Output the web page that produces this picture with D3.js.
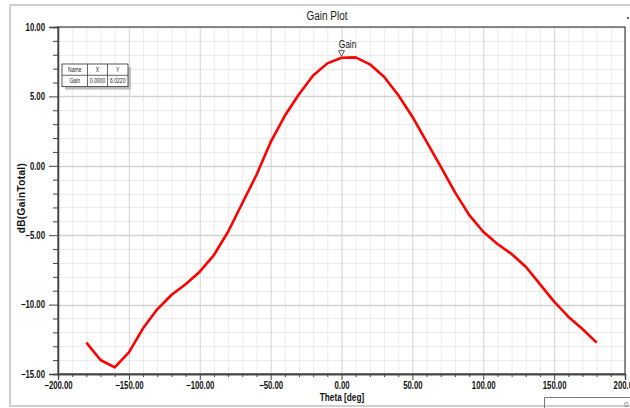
<!DOCTYPE html>
<html>
<head>
<meta charset="utf-8">
<script src="https://cdn.jsdelivr.net/npm/d3@7"></script>
<style>
  html, body { margin: 0; padding: 0; background: #fff; }
  svg { display: block; }
  text { font-family: "Liberation Sans", Arial, sans-serif; }
</style>
</head>
<body>
<svg id="chart" width="630" height="408"></svg>
<script>
// ---- data ----
const theta = [-180,-170,-160,-150,-140,-130,-120,-110,-100,-90,-80,-70,-60,-50,-40,-30,-20,-10,0,10,20,30,40,50,60,70,80,90,100,110,120,130,140,150,160,170,180];
const gainDb = [-12.74,-13.99,-14.52,-13.44,-11.71,-10.34,-9.31,-8.54,-7.63,-6.43,-4.75,-2.70,-0.66,1.70,3.60,5.15,6.50,7.38,7.79,7.81,7.31,6.42,5.10,3.54,1.74,-0.06,-1.90,-3.54,-4.75,-5.63,-6.35,-7.27,-8.52,-9.79,-10.87,-11.76,-12.74];
const xTicks = [-200,-150,-100,-50,0,50,100,150,200];
const yTicks = [-15,-10,-5,0,5,10];
const markerHeader = ["Name","X","Y"];
const markerRow = ["Gain","0.0000","6.0220"];
const titleText = "Gain Plot";
const xLabel = "Theta [deg]";
const yLabel = "dB(GainTotal)";
const seriesName = "Gain";
const markerTheta = 0;

// ---- helpers ----
function condense(sel, f) {
  sel.each(function () {
    const w = this.getComputedTextLength();
    if (w > 0) d3.select(this).attr("textLength", w * f).attr("lengthAdjust", "spacingAndGlyphs");
  });
  return sel;
}

// ---- layout ----
const svg = d3.select("#chart");
const L = 58, R = 625, T = 27, B = 374;
const x = d3.scaleLinear().domain([-200, 200]).range([L, R]);
const y = d3.scaleLinear().domain([-15, 10]).range([B, T]);

svg.append("rect").attr("width", 630).attr("height", 408).attr("fill", "#fff");

// outer frame
svg.append("rect").attr("x", 10).attr("y", 5).attr("width", 640).attr("height", 401)
  .attr("fill", "none").attr("stroke", "#cfcfcf").attr("stroke-width", 2);

// title
condense(svg.append("text").attr("x", 327).attr("y", 20).attr("text-anchor", "middle")
  .attr("font-size", 12.5).attr("fill", "#222").text(titleText), 0.8);
svg.append("rect").attr("x", 627).attr("y", 17).attr("width", 2).attr("height", 2).attr("fill", "#666");

// grid
const g = svg.append("g");
const minorX = d3.range(-200, 201, 10).filter(v => v % 50 !== 0);
const minorY = d3.range(-15, 11, 1).filter(v => v % 5 !== 0);
g.selectAll(".mx").data(minorX).join("line")
  .attr("x1", d => x(d) + 0.5).attr("x2", d => x(d) + 0.5).attr("y1", T).attr("y2", B)
  .attr("stroke", "#ececec").attr("stroke-width", 1);
g.selectAll(".my").data(minorY).join("line")
  .attr("y1", d => Math.round(y(d)) + 0.5).attr("y2", d => Math.round(y(d)) + 0.5).attr("x1", L).attr("x2", R)
  .attr("stroke", "#ececec").attr("stroke-width", 1);
g.selectAll(".Mx").data(xTicks).join("line")
  .attr("x1", d => x(d) + 0.5).attr("x2", d => x(d) + 0.5).attr("y1", T).attr("y2", B)
  .attr("stroke", "#d2d2d2").attr("stroke-width", 1);
g.selectAll(".My").data(yTicks).join("line")
  .attr("y1", d => Math.round(y(d)) + 0.5).attr("y2", d => Math.round(y(d)) + 0.5).attr("x1", L).attr("x2", R)
  .attr("stroke", "#d2d2d2").attr("stroke-width", 1.5);

// plot frame
svg.append("rect").attr("x", L).attr("y", T).attr("width", R - L).attr("height", B - T)
  .attr("fill", "none").attr("stroke", "#555").attr("stroke-width", 1.3);

// axes
const fmt = d3.format(".2f");
const yAxis = svg.append("g").attr("transform", `translate(${L},0)`)
  .call(d3.axisLeft(y).tickValues(yTicks).tickFormat(fmt).tickSize(9).tickPadding(4));
const yMinor = svg.append("g").attr("transform", `translate(${L},0)`)
  .call(d3.axisLeft(y).tickValues(minorY).tickFormat("").tickSize(5));
const xAxis = svg.append("g").attr("transform", `translate(0,${B})`)
  .call(d3.axisBottom(x).tickValues(xTicks).tickFormat(fmt).tickSize(6).tickPadding(2));
const xMinor = svg.append("g").attr("transform", `translate(0,${B})`)
  .call(d3.axisBottom(x).tickValues(minorX).tickFormat("").tickSize(3));
[yAxis, yMinor, xAxis, xMinor].forEach(a => {
  a.select(".domain").attr("stroke", "#444").attr("stroke-width", 1.3);
  a.selectAll(".tick line").attr("stroke", "#444");
  const t = a.selectAll(".tick text").attr("font-size", 10.5).attr("font-weight", "bold")
    .attr("fill", "#111").attr("font-family", '"Liberation Sans", Arial, sans-serif');
  condense(t, 0.74);
});

// axis titles
condense(svg.append("text").attr("x", 342).attr("y", 401).attr("text-anchor", "middle")
  .attr("font-size", 11).attr("font-weight", "bold").attr("fill", "#111").text(xLabel), 0.75);
svg.append("text").attr("transform", "translate(25,198) rotate(-90)").attr("text-anchor", "middle")
  .attr("font-size", 10).attr("font-weight", "bold").attr("fill", "#111")
  .attr("letter-spacing", 0.4).text(yLabel);

// curve
const line = d3.line().x((d, i) => x(theta[i])).y(d => y(d));
svg.append("path").datum(gainDb).attr("d", line).attr("fill", "none")
  .attr("stroke", "#ff0000").attr("stroke-width", 2.6).attr("stroke-linejoin", "round");

// marker
const mi = theta.indexOf(markerTheta);
const mx = x(markerTheta), my = y(gainDb[mi]);
svg.append("path").attr("d", `M${mx - 3},${my - 7} L${mx + 3},${my - 7} L${mx},${my - 1.5} Z`)
  .attr("fill", "#fff").attr("stroke", "#444").attr("stroke-width", 0.9);
condense(svg.append("text").attr("x", mx + 6).attr("y", my - 10).attr("text-anchor", "middle")
  .attr("font-size", 10.5).attr("fill", "#111").text(seriesName), 0.8);

// marker table
const tx = 62, ty = 64, colW = [25.5, 20, 20.5], rowH = 11.3;
const tw = d3.sum(colW), th = rowH * 2;
const tbl = svg.append("g");
tbl.append("rect").attr("x", tx + 3).attr("y", ty + 3).attr("width", tw).attr("height", th).attr("fill", "#bdbdbd");
tbl.append("rect").attr("x", tx).attr("y", ty).attr("width", tw).attr("height", th)
  .attr("fill", "#fff").attr("stroke", "#444").attr("stroke-width", 0.9);
tbl.append("line").attr("x1", tx).attr("x2", tx + tw).attr("y1", ty + rowH).attr("y2", ty + rowH)
  .attr("stroke", "#444").attr("stroke-width", 0.8);
let cx = tx;
const centers = [];
colW.forEach((w, i) => {
  centers.push(cx + w / 2);
  cx += w;
  if (i < colW.length - 1) tbl.append("line").attr("x1", cx).attr("x2", cx).attr("y1", ty).attr("y2", ty + th)
    .attr("stroke", "#444").attr("stroke-width", 0.8);
});
[markerHeader, markerRow].forEach((row, r) => {
  row.forEach((t, c) => {
    condense(tbl.append("text").attr("x", centers[c]).attr("y", ty + rowH * r + 8).attr("text-anchor", "middle")
      .attr("font-size", 6.5).attr("fill", "#222").text(t), 0.78);
  });
});

// partial box at bottom right
svg.append("path").attr("d", "M544.5,408 L544.5,397.5 L640,397.5").attr("fill", "none")
  .attr("stroke", "#777").attr("stroke-width", 1);
svg.append("text").attr("x", 624).attr("y", 407).attr("font-size", 8).attr("fill", "#777").text("0");
</script>
</body>
</html>
